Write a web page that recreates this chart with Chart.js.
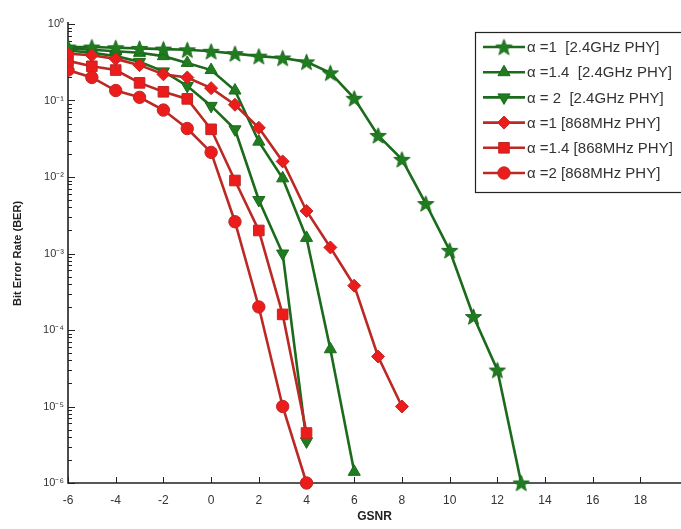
<!DOCTYPE html>
<html>
<head>
<meta charset="utf-8">
<script src="https://cdn.jsdelivr.net/npm/chart.js@4.4.1/dist/chart.umd.min.js"></script>
<style>
html, body { margin: 0; padding: 0; background: #fff; overflow: hidden; }
</style>
</head>
<body>
<canvas id="ber_chart" width="681" height="529"></canvas>
<script>
// GSNR (dB) sample points for each curve
const gsnr_24_a1  = [-6, -5, -4, -3, -2, -1, 0, 1, 2, 3, 4, 5, 6, 7, 8, 9, 10, 11, 12, 13];
const gsnr_24_a14 = [-6, -5, -4, -3, -2, -1, 0, 1, 2, 3, 4, 5, 6];
const gsnr_24_a2  = [-6, -5, -4, -3, -2, -1, 0, 1, 2, 3, 4];
const gsnr_868_a1  = [-6, -5, -4, -3, -2, -1, 0, 1, 2, 3, 4, 5, 6, 7, 8];
const gsnr_868_a14 = [-6, -5, -4, -3, -2, -1, 0, 1, 2, 3, 4];
const gsnr_868_a2  = [-6, -5, -4, -3, -2, -1, 0, 1, 2, 3, 4];

// bit error rates
const ber_24_a1  = [0.5, 0.5, 0.49, 0.48, 0.47, 0.46, 0.44, 0.41, 0.38, 0.36, 0.32, 0.23, 0.107, 0.035, 0.017, 0.0045, 0.0011, 1.5e-4, 3e-5, 1e-6];
const ber_24_a14 = [0.48, 0.46, 0.44, 0.42, 0.38, 0.31, 0.25, 0.135, 0.029, 0.0096, 0.0016, 5.6e-5, 1.4e-6];
const ber_24_a2  = [0.45, 0.42, 0.38, 0.32, 0.24, 0.155, 0.085, 0.042, 0.005, 0.001, 3.5e-6];
const ber_868_a1  = [0.41, 0.39, 0.35, 0.29, 0.22, 0.2, 0.145, 0.088, 0.044, 0.016, 0.0036, 0.0012, 3.8e-4, 4.5e-5, 1e-5];
const ber_868_a14 = [0.33, 0.28, 0.25, 0.17, 0.13, 0.105, 0.042, 0.009, 0.002, 1.6e-4, 4.5e-6];
const ber_868_a2  = [0.25, 0.2, 0.135, 0.11, 0.075, 0.043, 0.021, 0.0026, 2e-4, 1e-5, 1e-6];

const series_labels = [
    'α =1  [2.4GHz PHY]',
    'α =1.4  [2.4GHz PHY]',
    'α = 2  [2.4GHz PHY]',
    'α =1 [868MHz PHY]',
    'α =1.4 [868MHz PHY]',
    'α =2 [868MHz PHY]'
];

const x_ticks = [-6, -4, -2, 0, 2, 4, 6, 8, 10, 12, 14, 16, 18];
const y_ticks = [1e-6, 1e-5, 1e-4, 1e-3, 1e-2, 1e-1, 1];

const GREEN_LINE = '#1c6a1c';
const GREEN_MARK = '#1f7d1f';
const RED_LINE = '#bc2824';
const RED_MARK = '#ec1c1c';

// filled five point star, used as a marker image
function make_star(size, fill, edge) {
    const c = document.createElement('canvas');
    c.width = c.height = size;
    const g = c.getContext('2d');
    const r = size / 2 - 1, ri = r * 0.42, mid = size / 2;
    g.beginPath();
    for (let i = 0; i < 10; i++) {
        const a = -Math.PI / 2 + i * Math.PI / 5;
        const rr = i % 2 ? ri : r;
        g.lineTo(mid + rr * Math.cos(a), mid + rr * Math.sin(a) + 0.8);
    }
    g.closePath();
    g.fillStyle = fill;
    g.fill();
    g.strokeStyle = edge;
    g.lineWidth = 1;
    g.stroke();
    return c;
}

const star = make_star(19, GREEN_MARK, GREEN_LINE);

const SUP = { '0': '⁰', '1': '¹', '2': '²', '3': '³', '4': '⁴', '5': '⁵', '6': '⁶', '-': '⁻' };
function pow_label(v) {
    const e = Math.round(Math.log10(v));
    return '10' + String(e).split('').map(ch => SUP[ch]).join('');
}

function make_series(label, xs, ys, line, mark, style, radius, rotation, order) {
    return {
        label: label,
        data: xs.map((x, i) => ({ x: x, y: ys[i] })),
        borderColor: line,
        backgroundColor: mark,
        borderWidth: 2.6,
        pointStyle: style,
        pointRadius: radius,
        pointRotation: rotation,
        pointBackgroundColor: mark,
        pointBorderColor: line,
        pointBorderWidth: 1,
        tension: 0,
        order: order,
        clip: { left: 0, top: false, right: false, bottom: false }
    };
}

// inward MATLAB style axes with minor decade ticks
const inward_axes = {
    id: 'inward_axes',
    beforeDatasetsDraw(chart) {
        const { ctx, chartArea: area, scales: { x, y } } = chart;
        ctx.save();
        ctx.strokeStyle = '#222';
        ctx.lineWidth = 1;
        ctx.beginPath();
        x_ticks.forEach(v => {
            const px = Math.round(x.getPixelForValue(v)) + 0.5;
            ctx.moveTo(px, area.bottom);
            ctx.lineTo(px, area.bottom - 6);
        });
        for (let e = -6; e < 0; e++) {
            for (let m = 1; m < 10; m++) {
                const py = Math.round(y.getPixelForValue(m * Math.pow(10, e))) + 0.5;
                ctx.moveTo(area.left, py);
                ctx.lineTo(area.left + (m === 1 ? 7 : 4), py);
            }
        }
        const top = Math.round(y.getPixelForValue(1)) + 0.5;
        ctx.moveTo(area.left, top);
        ctx.lineTo(area.left + 7, top);
        ctx.stroke();

        ctx.lineWidth = 1.6;
        ctx.beginPath();
        ctx.moveTo(area.left, area.top - 2);
        ctx.lineTo(area.left, area.bottom);
        ctx.lineTo(chart.width, area.bottom);
        ctx.stroke();
        ctx.restore();
    }
};

// boxed legend in the upper right corner
const boxed_legend = {
    id: 'boxed_legend',
    afterDraw(chart) {
        const { ctx, chartArea: area } = chart;
        const left = area.right - 206, top = area.top + 8;
        const row_h = 25.2;
        ctx.save();
        ctx.fillStyle = '#fff';
        ctx.fillRect(left, top, 215, 160);
        ctx.strokeStyle = '#222';
        ctx.lineWidth = 1.2;
        ctx.strokeRect(left + 0.5, top + 0.5, 215, 160);

        ctx.font = '15px "Liberation Sans", Arial, sans-serif';
        ctx.textBaseline = 'middle';
        chart.data.datasets.forEach((ds, i) => {
            const yy = top + 15 + i * row_h;
            ctx.strokeStyle = ds.borderColor;
            ctx.lineWidth = ds.borderWidth;
            ctx.beginPath();
            ctx.moveTo(left + 8, yy);
            ctx.lineTo(left + 50, yy);
            ctx.stroke();
            ctx.fillStyle = ds.pointBackgroundColor;
            ctx.strokeStyle = ds.pointBorderColor;
            ctx.lineWidth = 1;
            Chart.helpers.drawPoint(ctx, {
                pointStyle: ds.pointStyle,
                radius: ds.pointRadius,
                rotation: ds.pointRotation,
                borderWidth: 1
            }, left + 29, yy);
            ctx.fillStyle = '#333';
            ctx.fillText(ds.label, left + 52, yy + 1);
        });
        ctx.restore();
    }
};

const ctx = document.getElementById('ber_chart').getContext('2d');

const ber_chart = new Chart(ctx, {
    type: 'line',
    data: {
        datasets: [
            make_series(series_labels[0], gsnr_24_a1, ber_24_a1, GREEN_LINE, GREEN_MARK, star, 9, 0, 2),
            make_series(series_labels[1], gsnr_24_a14, ber_24_a14, GREEN_LINE, GREEN_MARK, 'triangle', 7, 0, 2),
            make_series(series_labels[2], gsnr_24_a2, ber_24_a2, GREEN_LINE, GREEN_MARK, 'triangle', 7, 180, 2),
            make_series(series_labels[3], gsnr_868_a1, ber_868_a1, RED_LINE, RED_MARK, 'rectRot', 6.5, 0, 1),
            make_series(series_labels[4], gsnr_868_a14, ber_868_a14, RED_LINE, RED_MARK, 'rect', 7.5, 0, 1),
            make_series(series_labels[5], gsnr_868_a2, ber_868_a2, RED_LINE, RED_MARK, 'circle', 6.2, 0, 1)
        ]
    },
    options: {
        responsive: false,
        animation: false,
        devicePixelRatio: 1,
        layout: { autoPadding: false, padding: { top: 24, right: 0, bottom: 0, left: 0 } },
        plugins: {
            legend: { display: false },
            tooltip: { enabled: false }
        },
        scales: {
            x: {
                type: 'linear',
                min: -6,
                max: 19.7,
                grid: { display: false, drawTicks: false },
                border: { display: false },
                afterBuildTicks: scale => { scale.ticks = x_ticks.map(v => ({ value: v })); },
                afterFit: scale => {
                    scale.height = 46;
                    scale.paddingLeft = 0;
                    scale.paddingRight = 0;
                },
                ticks: {
                    padding: 10,
                    color: '#333',
                    font: { family: '"Liberation Sans", Arial, sans-serif', size: 12 },
                    maxRotation: 0,
                    callback: v => String(v)
                },
                title: {
                    display: true,
                    text: 'GSNR',
                    color: '#222',
                    font: { family: '"Liberation Sans", Arial, sans-serif', size: 12, weight: 'bold' },
                    padding: { top: 0, bottom: 5 }
                }
            },
            y: {
                type: 'logarithmic',
                min: 1e-6,
                max: 1,
                grid: { display: false, drawTicks: false },
                border: { display: false },
                afterBuildTicks: scale => { scale.ticks = y_ticks.map(v => ({ value: v, major: true })); },
                afterFit: scale => {
                    scale.width = 68;
                    scale.paddingTop = 0;
                    scale.paddingBottom = 0;
                },
                ticks: {
                    padding: 4,
                    color: '#333',
                    font: { family: '"Liberation Sans", Arial, sans-serif', size: 11 },
                    callback: v => pow_label(v)
                },
                title: {
                    display: true,
                    text: 'Bit Error Rate (BER)',
                    color: '#222',
                    font: { family: '"Liberation Sans", Arial, sans-serif', size: 11, weight: 'bold' },
                    padding: { top: 11, bottom: 0 }
                }
            }
        }
    },
    plugins: [inward_axes, boxed_legend]
});
</script>
</body>
</html>
